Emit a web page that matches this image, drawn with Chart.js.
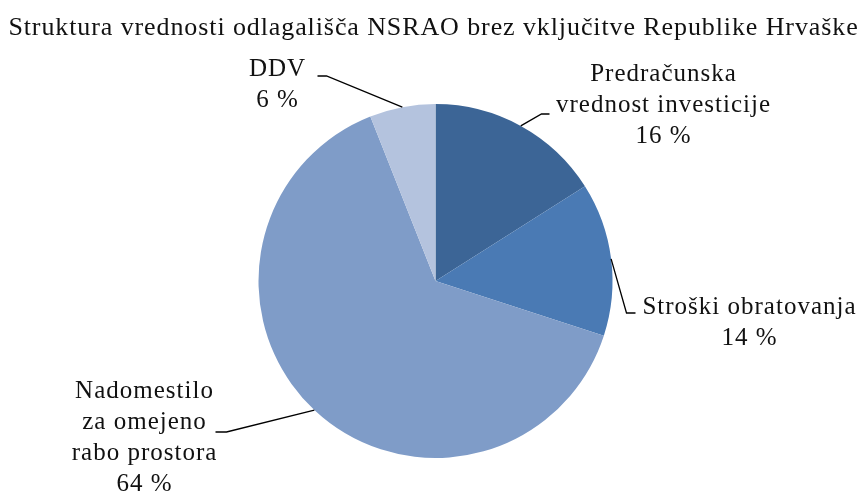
<!DOCTYPE html>
<html>
<head>
<meta charset="utf-8">
<script src="https://cdn.jsdelivr.net/npm/chart.js@4"></script>
<style>
  html, body { margin: 0; padding: 0; background: #fff; }
  #wrap { width: 865px; height: 499px; }
</style>
</head>
<body>
<div id="wrap"><canvas id="chart" width="865" height="499"></canvas></div>
<script>
const title = 'Struktura vrednosti odlagališča NSRAO brez vključitve Republike Hrvaške';
const categories = [
    ['Predračunska', 'vrednost investicije'],
    ['Stroški obratovanja'],
    ['Nadomestilo', 'za omejeno', 'rabo prostora'],
    ['DDV']
];
const shares = [16, 14, 64, 6];
const colors = ['#3c6596', '#4a7ab4', '#7f9cc8', '#b4c3de'];

const FONT = '"Liberation Serif", "Times New Roman", serif';

// label placement relative to pie centre (dx, dy of first baseline) and leader elbow
const labelPos = [
    { dx: 228, dy: -200, elbow: [106, -167], end: [114, -167] },
    { dx: 314, dy: 33, elbow: [191, 32], end: [200, 32] },
    { dx: -291, dy: 117, elbow: [-209, 151], end: [-220, 151] },
    { dx: -158, dy: -205, elbow: [-109, -205], end: [-118, -205] }
];

const labelsPlugin = {
    id: 'pieLabels',
    afterDraw(chart) {
        const ctx = chart.ctx;
        ctx.save();
        ctx.fillStyle = '#111';
        ctx.textAlign = 'center';
        ctx.textBaseline = 'alphabetic';
        ctx.font = '26px ' + FONT;
        ctx.letterSpacing = '0.9px';
        ctx.fillText(title, chart.width / 2 + 1, 35);

        const arcs = chart.getDatasetMeta(0).data;
        ctx.font = '25px ' + FONT;
        ctx.letterSpacing = '1px';
        arcs.forEach((arc, i) => {
            const p = arc.getProps(['x', 'y', 'startAngle', 'endAngle', 'outerRadius'], true);
            const mid = (p.startAngle + p.endAngle) / 2;
            const ex = p.x + Math.cos(mid) * p.outerRadius;
            const ey = p.y + Math.sin(mid) * p.outerRadius;
            const lp = labelPos[i];

            ctx.strokeStyle = '#000';
            ctx.lineWidth = 1.3;
            ctx.beginPath();
            ctx.moveTo(ex, ey);
            ctx.lineTo(p.x + lp.elbow[0], p.y + lp.elbow[1]);
            ctx.lineTo(p.x + lp.end[0], p.y + lp.end[1]);
            ctx.stroke();

            const lines = categories[i].concat([shares[i] + ' %']);
            lines.forEach((t, k) => {
                ctx.fillText(t, p.x + lp.dx, p.y + lp.dy + k * 31);
            });
        });
        ctx.restore();
    }
};

new Chart(document.getElementById('chart'), {
    type: 'pie',
    data: {
        labels: categories.map(c => c.join(' ')),
        datasets: [{
            data: shares,
            backgroundColor: colors,
            borderWidth: 0
        }]
    },
    options: {
        responsive: false,
        animation: false,
        layout: { padding: { top: 104, bottom: 41, left: 6, right: 0 } },
        plugins: {
            legend: { display: false },
            tooltip: { enabled: false },
            title: { display: false }
        }
    },
    plugins: [labelsPlugin]
});
</script>
</body>
</html>
